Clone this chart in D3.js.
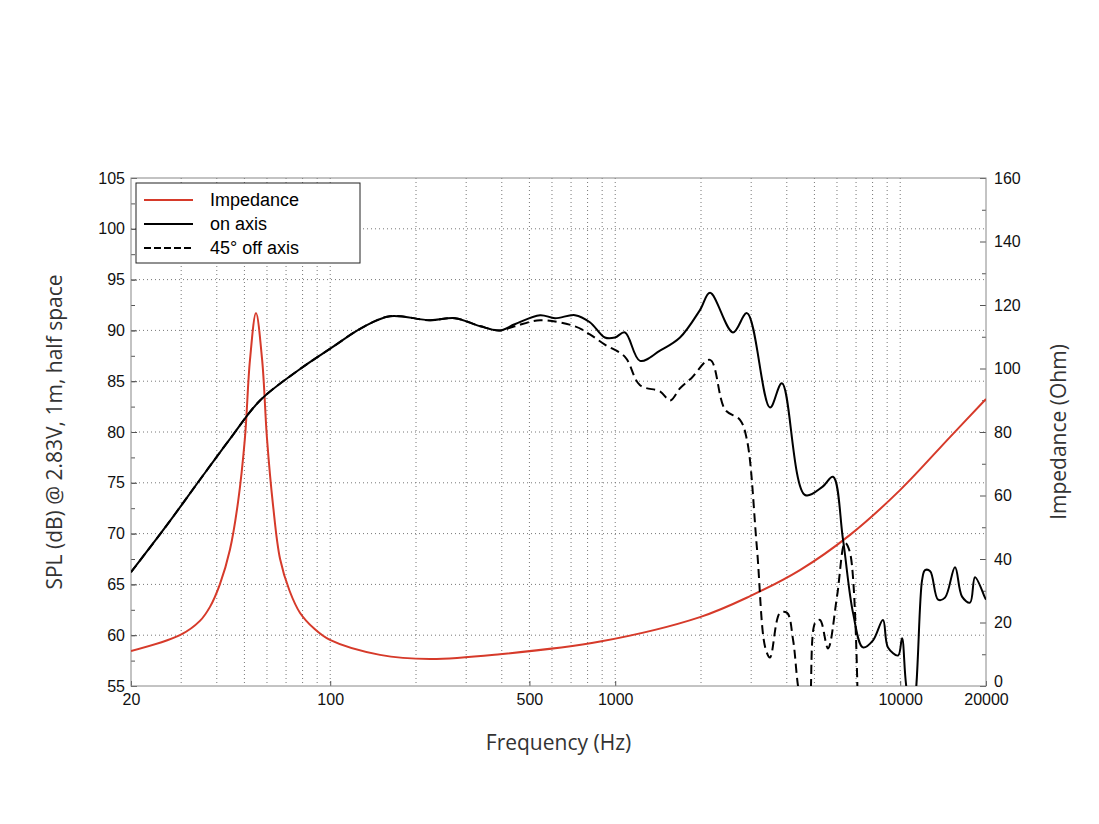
<!DOCTYPE html>
<html><head><meta charset="utf-8">
<script src="https://cdn.jsdelivr.net/npm/d3@7"></script>
<style>
body{margin:0;background:#fff;}
text{font-family:"Liberation Sans",Arial,sans-serif;}
.title{font-family:"Open Sans","DejaVu Sans Condensed",sans-serif;font-size:21px;fill:#333;}
</style></head><body>
<div id="chart"></div>
<script>
// frequency response data [Hz, dB]
const onAxis = [[20,66.2],[27,71],[34.9,75.3],[45,79.5],[56.7,83.1],[78.4,86.2],[100,88.2],[130,90.3],[162,91.4],[224,91],[274,91.2],[337,90.4],[394,90],[444,90.6],[545,91.5],[615,91.2],[723,91.5],[815,90.8],[920,89.3],[998,89.3],[1082,89.8],[1222,87],[1436,88],[1688,89.3],[1983,92],[2151,93.7],[2590,89.8],[2900,91.7],[3492,82.4],[3845,84.8],[4634,73.8],[5330,74.6],[5810,75.6],[6300,69.4],[6830,62.2],[7400,58.8],[8030,59.5],[8700,61.5],[9060,58.8],[9830,58],[10150,59.7],[10570,54.5],[11100,53],[11930,65.4],[12220,66.4],[12740,66.3],[13580,63.5],[14360,63.7],[15570,66.7],[16480,63.8],[17580,63.2],[18300,65.7],[19830,63.7],[20000,63.5]];
const offAxis = [[20,66.2],[27,71],[34.9,75.3],[45,79.5],[56.7,83.1],[78.4,86.2],[100,88.2],[130,90.3],[162,91.4],[224,91],[274,91.2],[337,90.4],[394,90],[444,90.4],[545,91],[723,90.4],[815,89.6],[920,88.6],[1082,87.4],[1222,84.6],[1436,84],[1560,83.1],[1688,84.3],[1850,85.3],[2151,87.1],[2430,82.2],[2740,81.2],[2900,79.2],[3140,68.7],[3360,58.8],[3492,57.8],[3786,62.2],[4010,62.2],[4210,59.5],[4448,54],[4760,52],[5024,61.2],[5230,61.5],[5580,58.7],[6000,63.8],[6400,69.1],[6670,68.1],[7110,52]];
// impedance [Hz, Ohm]
const impedance = [[20,11],[29.7,16],[34.9,20.5],[37.9,25],[41,32],[44.5,43],[47.5,58],[50.2,78],[52.3,102.7],[54.9,117.5],[57.7,102.7],[60,78],[63,57],[66.7,40],[72,30],[78.4,23],[88,18],[99.8,14.5],[149.5,9.8],[224,8.5],[394,10],[885,14],[1983,21.7],[2973,28.3],[4448,36.5],[6668,47.6],[9985,61.7],[14950,78.4],[20000,90.4]];
const freqLabels = [20,100,500,1000,10000,20000];
const splTicks = d3.range(55,106,5);
const ohmTicks = d3.range(0,161,20);

const width = 1099, height = 824;
const margin = {left:131, right:113, top:178, bottom:138};
const iw = width-margin.left-margin.right, ih = height-margin.top-margin.bottom;

const svg = d3.select('#chart').append('svg').attr('width',width).attr('height',height);
const g = svg.append('g').attr('transform',`translate(${margin.left},${margin.top})`);

const x = d3.scaleLog().domain([20,20000]).range([0,iw]);
const y = d3.scaleLinear().domain([55,105]).range([ih,0]);
const y2 = d3.scaleLinear().domain([0,160]).range([ih,0]);

// grid lines
const gridF = [];
[10,100,1000,10000].forEach(d => { for (let k=1;k<10;k++){ const f=d*k; if (f>20 && f<20000) gridF.push(f);} });
g.selectAll('.vg').data(gridF).enter().append('line')
    .attr('x1',d=>x(d)).attr('x2',d=>x(d)).attr('y1',0).attr('y2',ih)
    .attr('stroke','#777').attr('stroke-width',1).attr('stroke-dasharray','1,3');
g.selectAll('.hg').data(splTicks.slice(1,-1)).enter().append('line')
    .attr('x1',0).attr('x2',iw).attr('y1',d=>y(d)).attr('y2',d=>y(d))
    .attr('stroke','#777').attr('stroke-width',1).attr('stroke-dasharray','1,3');

// axes
const ax = g.append('g').attr('transform',`translate(0,${ih})`)
    .call(d3.axisBottom(x).tickValues(freqLabels).tickFormat(d3.format('d')).tickSize(-5).tickPadding(8));
const ayL = g.append('g').call(d3.axisLeft(y).tickValues(splTicks).tickSize(-6).tickPadding(6));
const ayLm = g.append('g').call(d3.axisLeft(y).tickValues(d3.range(55,105,2.5)).tickSize(-4).tickFormat(''));
const ayR = g.append('g').attr('transform',`translate(${iw},0)`)
    .call(d3.axisRight(y2).tickValues(ohmTicks).tickSize(-6).tickPadding(8));
const ayRm = g.append('g').attr('transform',`translate(${iw},0)`)
    .call(d3.axisRight(y2).tickValues(d3.range(10,160,20)).tickSize(-4).tickFormat(''));
[ax,ayL,ayLm,ayR,ayRm].forEach(a => {
    a.selectAll('text').style('font-size','16px').attr('fill','#111');
    a.selectAll('line').attr('stroke','#555');
    a.select('.domain').remove();
});
ayR.selectAll('.tick').filter(d => d === 0).select('text').attr('dy','0');
g.append('rect').attr('width',iw).attr('height',ih).attr('fill','none').attr('stroke','#888');

// curves
g.append('clipPath').attr('id','clip').append('rect').attr('width',iw).attr('height',ih);
const plot = g.append('g').attr('clip-path','url(#clip)');
const line = d3.line().x(d=>x(d[0])).y(d=>y(d[1])).curve(d3.curveCatmullRom.alpha(0.5));
const line2 = d3.line().x(d=>x(d[0])).y(d=>y2(d[1])).curve(d3.curveCatmullRom.alpha(0.5));
plot.append('path').datum(impedance).attr('d',line2).attr('fill','none').attr('stroke','#d63a2a').attr('stroke-width',2);
plot.append('path').datum(offAxis).attr('d',line).attr('fill','none').attr('stroke','#000').attr('stroke-width',2).attr('stroke-dasharray','9,5');
plot.append('path').datum(onAxis).attr('d',line).attr('fill','none').attr('stroke','#000').attr('stroke-width',2);

// legend
const leg = g.append('g').attr('transform','translate(5,5)');
leg.append('rect').attr('width',224).attr('height',80).attr('fill','#fff').attr('stroke','#222');
const items = [['Impedance','#d63a2a',null],['on axis','#000',null],['45° off axis','#000','7,3']];
items.forEach((it,i) => {
    const yy = 17+i*24;
    leg.append('line').attr('x1',8).attr('x2',57).attr('y1',yy).attr('y2',yy)
        .attr('stroke',it[1]).attr('stroke-width',2).attr('stroke-dasharray',it[2]);
    leg.append('text').attr('x',74).attr('y',yy+6).style('font-size','18px').text(it[0]);
});

// titles
svg.append('text').attr('class','title').attr('x',margin.left+iw/2).attr('y',750).attr('text-anchor','middle').text('Frequency (Hz)');
svg.append('text').attr('class','title').attr('transform',`translate(62,${margin.top+ih/2}) rotate(-90)`).attr('text-anchor','middle').text('SPL (dB) @ 2.83V, 1m, half space');
svg.append('text').attr('class','title').attr('transform',`translate(1066,${margin.top+ih/2}) rotate(-90)`).attr('text-anchor','middle').text('Impedance (Ohm)');
</script>
</body></html>
